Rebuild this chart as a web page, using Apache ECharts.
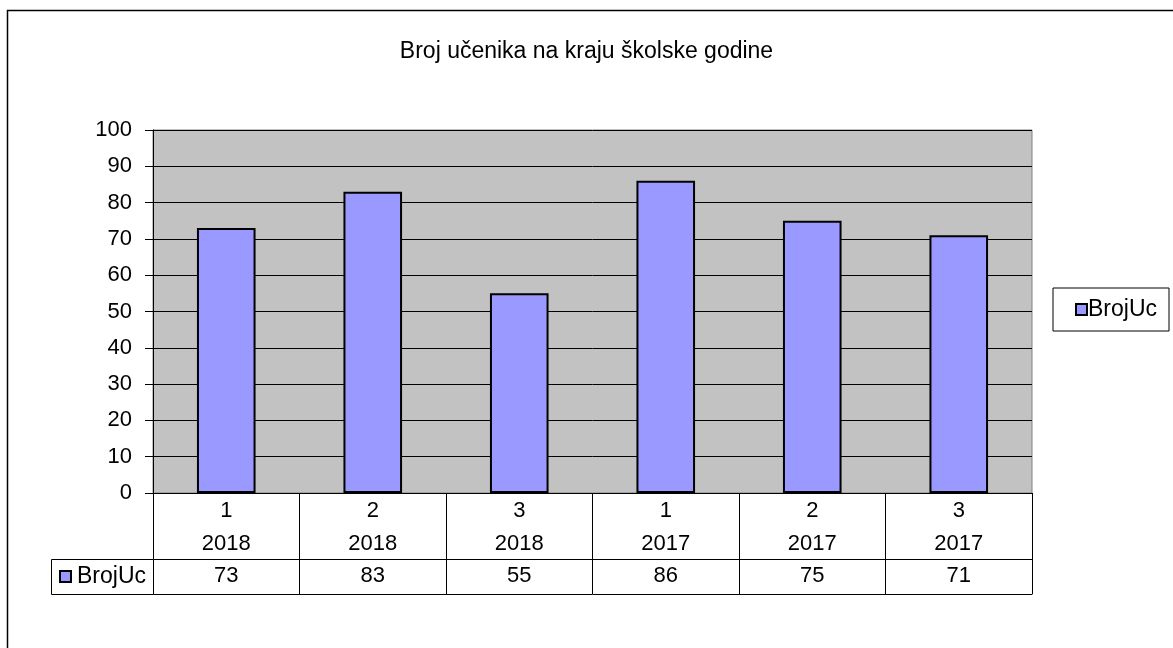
<!DOCTYPE html>
<html>
<head>
<meta charset="utf-8">
<script src="https://cdn.jsdelivr.net/npm/echarts@6/dist/echarts.min.js"></script>
<style>
html,body{margin:0;padding:0;background:#fff;}
#c{width:1173px;height:648px;}
</style>
</head>
<body>
<div id="c"></div>
<script>
const titleText = 'Broj učenika na kraju školske godine';
const seriesName = 'BrojUc';
const periods = ['1', '2', '3', '1', '2', '3'];
const years = ['2018', '2018', '2018', '2017', '2017', '2017'];
const values = [73, 83, 55, 86, 75, 71];
const yTicks = [0, 10, 20, 30, 40, 50, 60, 70, 80, 90, 100];

const FONT = '"Liberation Sans", Arial, sans-serif';
const BAR = '#9999FF';
const categories = periods.map((p, i) => p + '\n' + years[i]);

const chart = echarts.init(document.getElementById('c'), null, {renderer: 'canvas'});
chart.setOption({
  backgroundColor: '#fff',
  animation: false,
  title: {
    text: titleText,
    left: 'center',
    top: 35,
    textStyle: {fontFamily: FONT, fontSize: 23, fontWeight: 'normal', color: '#000'}
  },
  legend: {
    data: [{name: seriesName, itemStyle: {color: BAR, borderColor: '#000', borderWidth: 2}}],
    left: 1053,
    top: 288,
    orient: 'vertical',
    icon: 'rect',
    itemWidth: 11,
    itemHeight: 11,
    padding: [10, 12, 10, 22],
    borderColor: '#000',
    borderWidth: 1,
    backgroundColor: '#fff',
    textStyle: {fontFamily: FONT, fontSize: 23, color: '#000', padding: [0, 0, 0, -4]}
  },
  grid: {
    left: 153, right: 141, top: 130, bottom: 155,
    show: true, backgroundColor: '#C2C2C2', borderColor: '#808080', borderWidth: 1
  },
  xAxis: [
    {
      type: 'category',
      data: categories,
      position: 'bottom',
      axisLine: {show: true, lineStyle: {color: '#000', width: 1}},
      axisTick: {show: true, length: 101, lineStyle: {color: '#000', width: 1}},
      axisLabel: {fontFamily: FONT, fontSize: 22, color: '#000', lineHeight: 33, margin: 1},
      splitLine: {show: false}
    },
    {
      type: 'category',
      data: values.map(String),
      position: 'bottom',
      offset: 66,
      axisLine: {show: true, onZero: false, lineStyle: {color: '#000', width: 1}},
      axisTick: {show: false},
      axisLabel: {fontFamily: FONT, fontSize: 22, color: '#000', lineHeight: 34, margin: 0},
      splitLine: {show: false}
    },
    {
      type: 'category',
      data: values.map(() => ''),
      position: 'bottom',
      offset: 101,
      axisLine: {show: true, onZero: false, lineStyle: {color: '#000', width: 1}},
      axisTick: {show: false},
      axisLabel: {show: false},
      splitLine: {show: false}
    }
  ],
  yAxis: {
    type: 'value',
    min: yTicks[0],
    max: yTicks[yTicks.length - 1],
    interval: 10,
    axisLine: {show: true, lineStyle: {color: '#000', width: 1}},
    axisTick: {show: true, length: 8, lineStyle: {color: '#000'}},
    axisLabel: {fontFamily: FONT, fontSize: 22, color: '#000', margin: 21},
    splitLine: {show: true, lineStyle: {color: '#000', width: 1}}
  },
  series: [{
    name: seriesName,
    type: 'bar',
    xAxisIndex: 0,
    data: values,
    barWidth: '40%',
    itemStyle: {color: BAR, borderColor: '#000', borderWidth: 2}
  }],
  graphic: [
    {
      type: 'rect', silent: true, z: 100,
      shape: {x: 7.5, y: 10.5, width: 1300, height: 800},
      style: {fill: null, stroke: '#000', lineWidth: 1.5}
    },
    {
      type: 'rect', silent: true, z: 100,
      shape: {x: 51.5, y: 559.5, width: 102, height: 35},
      style: {fill: '#fff', stroke: '#000', lineWidth: 1}
    },
    {
      type: 'rect', silent: true, z: 101,
      shape: {x: 60, y: 571, width: 11, height: 11},
      style: {fill: BAR, stroke: '#000', lineWidth: 2}
    },
    {
      type: 'text', silent: true, z: 101,
      x: 77, y: 577,
      style: {text: seriesName, font: '23px ' + FONT, fill: '#000', textVerticalAlign: 'middle'}
    }
  ]
});
</script>
</body>
</html>
